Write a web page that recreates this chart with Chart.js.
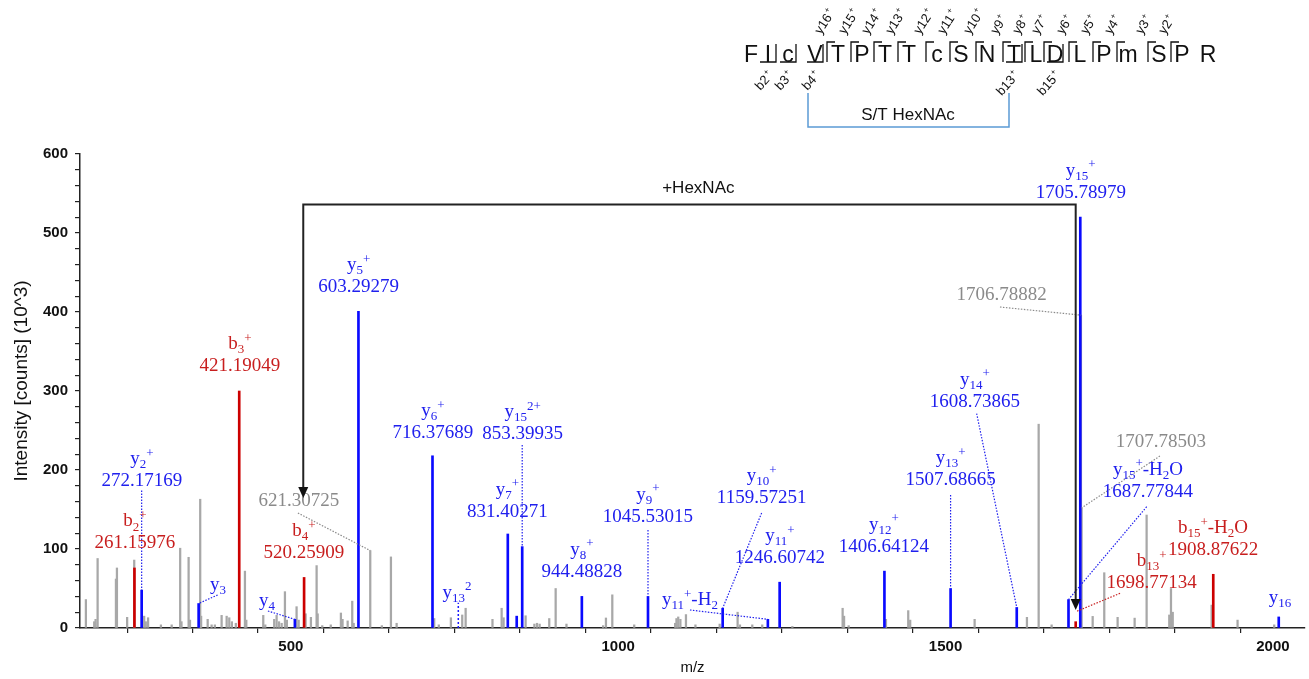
<!DOCTYPE html>
<html>
<head>
<meta charset="utf-8">
<script src="https://cdn.jsdelivr.net/npm/chart.js@4.4.1/dist/chart.umd.min.js"></script>
<style>
  html, body { margin: 0; padding: 0; background: #fff; }
  #wrap { width: 1309px; height: 679px; }
</style>
</head>
<body>
<div id="wrap"><canvas id="spectrum" width="1309" height="679"></canvas></div>
<script>
// unassigned peaks (grey)
var grayMz = [187, 199.7, 201.8, 204.9, 232.9, 234.4, 250, 260.8, 276, 278.5, 282, 301.6, 318,
  331, 333, 343.9, 346, 361.6, 363, 373, 379, 384, 394.3, 402, 406, 410, 416, 429.9, 432,
  457.9, 461, 474.6, 478.3, 482, 486, 491, 494, 508.8, 512, 522.6, 530.7, 539.4, 541, 548,
  561, 576.5, 579, 586.8, 593.8, 596, 621.31, 639, 652.9, 661.6, 719, 726, 744.5, 761.8,
  767, 808, 822, 825, 858.6, 872, 876, 880, 894.7, 904.5, 921, 977, 981.3, 991, 1024.5,
  1087, 1089, 1091.7, 1095, 1103.5, 1118, 1155, 1182.4, 1186, 1204.8, 1220, 1266, 1342.8,
  1345, 1352, 1409, 1443, 1446, 1544.4, 1624.3, 1642.2, 1662, 1706.79, 1707.79, 1724.7,
  1742.4, 1762.8, 1788.8, 1807.1, 1841.7, 1844.3, 1847, 1906.4, 1946, 2002];
var grayInt = [36, 8, 11, 88, 62, 76, 13.5, 86, 15, 8, 13, 4, 4,
  101, 8, 89.5, 10, 163, 15, 11, 4, 4, 16, 15, 13, 8, 6, 72, 10,
  16, 4, 11, 16, 8, 6, 46, 10, 27, 10, 18, 13.5, 79, 18, 3,
  4, 19, 11, 9, 34, 6, 98, 3, 90, 6, 12, 4, 13, 16.5,
  25, 11, 25, 13, 15.5, 5, 6, 5, 12, 50, 5, 3, 12.7, 42, 4,
  6, 12, 14, 11, 17, 4, 5, 20, 4, 4, 4, 2, 25,
  15, 3, 11, 22, 10, 11, 13.5, 258, 4, 396, 152, 14.7,
  70, 13.5, 12.5, 143, 16.5, 50, 20, 29, 10, 4];

// y ions (blue)
var blueMz = [272.17, 359.2, 506.2, 603.29, 716.38, 831.40, 845.0, 853.40, 944.49, 1045.53,
  1159.57, 1228.6, 1246.61, 1406.64, 1507.69, 1608.74, 1687.78, 1705.79, 2008.9];
var blueInt = [48, 31, 11, 401, 218, 119, 15, 103, 40, 40,
  25, 11, 58, 72, 50, 26, 36, 520, 14];

// b ions (red)
var redMz = [261.16, 421.19, 520.26, 1698.77, 1908.88];
var redInt = [76, 300, 64, 8, 68];

// doubly charged y13, drawn dotted
var dottedMz = [755.8];
var dottedInt = [32];

// peptide sequence and observed fragments
var residues = ['F', 'I', 'c', 'V', 'T', 'P', 'T', 'T', 'c', 'S', 'N', 'T', 'L', 'D', 'L', 'P', 'm', 'S', 'P', 'R'];
var yGaps = [4, 5, 6, 7, 8, 9, 10, 11, 12, 13, 14, 15, 16, 17, 18];
var bGaps = [2, 3, 4, 12, 14];
var bNames = ['b2', 'b3', 'b4', 'b13', 'b15'];

// annotation layout: label centre of the m/z line in data units, optional leader
var ionLabels = [
  { ion: 'y_{2}^{+}', text: '272.17169', c: 'blue', at: [272.6, 186], lead: [272.17, 174, 272.17, 48] },
  { ion: 'b_{2}^{+}', text: '261.15976', c: 'red', at: [262, 107] },
  { ion: 'b_{3}^{+}', text: '421.19049', c: 'red', at: [422.3, 331.6] },
  { ion: 'y_{3}', c: 'blue', at: [388.7, 54.4], lead: [388.2, 41.8, 359.2, 31] },
  { ion: 'y_{4}', c: 'blue', at: [463.5, 34.6], lead: [465, 21.5, 506.2, 11] },
  { ion: 'b_{4}^{+}', text: '520.25909', c: 'red', at: [520, 95] },
  { text: '621.30725', c: 'gray', at: [512.4, 160.8], lead: [510.8, 145.6, 621.31, 98] },
  { ion: 'y_{5}^{+}', text: '603.29279', c: 'blue', at: [603.6, 431.6] },
  { ion: 'y_{6}^{+}', text: '716.37689', c: 'blue', at: [717, 246.8] },
  { ion: 'y_{15}^{2+}', text: '853.39935', c: 'blue', at: [854, 245.6], lead: [853.4, 231.6, 853.4, 103] },
  { ion: 'y_{7}^{+}', text: '831.40271', c: 'blue', at: [830.8, 147.2] },
  { ion: 'y_{13}^{2}', c: 'blue', at: [753.7, 44.7] },
  { ion: 'y_{8}^{+}', text: '944.48828', c: 'blue', at: [944.6, 71.3] },
  { ion: 'y_{9}^{+}', text: '1045.53015', c: 'blue', at: [1045.4, 140.9], lead: [1045.53, 124, 1045.53, 40] },
  { ion: 'y_{10}^{+}', text: '1159.57251', c: 'blue', at: [1219.1, 164.2], lead: [1219.1, 145.6, 1159.57, 25] },
  { ion: 'y_{11}^{+}-H_{2}', c: 'blue', at: [1109.6, 35.4], lead: [1109.6, 22.8, 1228.6, 11] },
  { ion: 'y_{11}^{+}', text: '1246.60742', c: 'blue', at: [1247, 88.6] },
  { ion: 'y_{12}^{+}', text: '1406.64124', c: 'blue', at: [1405.8, 102.9] },
  { ion: 'y_{13}^{+}', text: '1507.68665', c: 'blue', at: [1507.8, 187.3], lead: [1507.69, 168.4, 1507.69, 50] },
  { ion: 'y_{14}^{+}', text: '1608.73865', c: 'blue', at: [1544.9, 286.5], lead: [1547.5, 271.5, 1608.74, 26] },
  { ion: 'y_{15}^{+}-H_{2}O', text: '1687.77844', c: 'blue', at: [1809.1, 172.5], lead: [1807.2, 153.5, 1687.78, 36] },
  { text: '1707.78503', c: 'gray', at: [1829, 235.8], lead: [1827.4, 217.7, 1707.79, 152] },
  { text: '1706.78882', c: 'gray', at: [1585.7, 421.5], lead: [1583.1, 406.3, 1706.79, 396] },
  { ion: 'y_{15}^{+}', text: '1705.78979', c: 'blue', at: [1706.5, 551] },
  { ion: 'b_{15}^{+}-H_{2}O', text: '1908.87622', c: 'red', at: [1908.5, 98.7] },
  { ion: 'b_{13}^{+}', text: '1698.77134', c: 'red', at: [1814.8, 56.6], lead: [1766.5, 43.9, 1698.77, 20.6] },
  { ion: 'y_{16}', c: 'blue', at: [2010.8, 37.6] }
];
var hexShift = { from: 519, to: 1698.77, top: 536, leftTip: 164.6, rightTip: 22.8, label: [1122.4, 557] };

var seqX = [751, 768, 788, 815, 838, 862, 885, 909, 937, 961, 987, 1014, 1036, 1055, 1080, 1104, 1128, 1159, 1182, 1208];
var labelColor = { blue: '#2020ee', red: '#c81e1e', gray: '#8a8a8a' };
var SANS = '"Liberation Sans", Arial, sans-serif';
var SERIF = '"Liberation Serif", "Times New Roman", serif';

function points(xs, ys) {
  return xs.map(function (x, i) { return { x: x, y: ys[i] }; });
}

function richParts(s) {
  var parts = [], re = /([_^])\{([^}]*)\}|([^_^]+)/g, m;
  while ((m = re.exec(s))) {
    if (m[1]) parts.push({ t: m[2], k: m[1] === '_' ? 'sub' : 'sup' });
    else parts.push({ t: m[3], k: 'n' });
  }
  return parts;
}

function drawRich(ctx, s, cx, cy, size) {
  var parts = richParts(s);
  var big = size + 'px ' + SERIF, small = Math.round(size * 0.66) + 'px ' + SERIF;
  var w = 0;
  parts.forEach(function (p) {
    ctx.font = p.k === 'n' ? big : small;
    p.w = ctx.measureText(p.t).width;
    w += p.w;
  });
  var x = cx - w / 2;
  ctx.textAlign = 'left';
  ctx.textBaseline = 'middle';
  parts.forEach(function (p) {
    ctx.font = p.k === 'n' ? big : small;
    var dy = p.k === 'sub' ? size * 0.3 : (p.k === 'sup' ? -size * 0.3 : 0);
    ctx.fillText(p.t, x, cy + dy);
    x += p.w;
  });
}

function arrowHead(ctx, x, tipY) {
  ctx.beginPath();
  ctx.moveTo(x, tipY);
  ctx.lineTo(x - 5, tipY - 11);
  ctx.lineTo(x + 5, tipY - 11);
  ctx.closePath();
  ctx.fill();
}

function drawPeptide(ctx) {
  ctx.save();
  ctx.fillStyle = '#111';
  ctx.strokeStyle = '#111';
  ctx.lineWidth = 1.3;
  ctx.font = '23px ' + SANS;
  ctx.textAlign = 'center';
  ctx.textBaseline = 'alphabetic';
  residues.forEach(function (r, i) { ctx.fillText(r, seqX[i], 62); });

  // y fragments: bracket opening to the right, label above
  yGaps.forEach(function (g) {
    var xv = seqX[g] - 11;
    ctx.beginPath();
    ctx.moveTo(xv, 62); ctx.lineTo(xv, 42); ctx.lineTo(xv + 8, 42);
    ctx.stroke();
    ctx.save();
    ctx.translate(xv - 6, 35);
    ctx.rotate(-57 * Math.PI / 180);
    ctx.textAlign = 'left';
    ctx.font = '13px ' + SANS;
    var t = 'y' + (20 - g);
    ctx.fillText(t, 0, 0);
    var w = ctx.measureText(t).width;
    ctx.font = '8px ' + SANS;
    ctx.fillText('+', w + 1, -6);
    ctx.restore();
  });

  // b fragments: bracket opening to the left, label below
  bGaps.forEach(function (g, k) {
    var xb = seqX[g - 1] + 8;
    ctx.beginPath();
    ctx.moveTo(xb - 16, 62); ctx.lineTo(xb, 62); ctx.lineTo(xb, 44);
    ctx.stroke();
    ctx.save();
    ctx.translate(xb - 2, 76);
    ctx.rotate(-48 * Math.PI / 180);
    ctx.textAlign = 'right';
    ctx.font = '8px ' + SANS;
    ctx.fillText('+', 0, -6);
    var pw = ctx.measureText('+').width;
    ctx.font = '13px ' + SANS;
    ctx.fillText(bNames[k], -pw - 1, 0);
    ctx.restore();
  });

  // HexNAc site bracket
  ctx.strokeStyle = '#5b9bd5';
  ctx.lineWidth = 1.5;
  ctx.beginPath();
  ctx.moveTo(808, 93); ctx.lineTo(808, 127); ctx.lineTo(1009, 127); ctx.lineTo(1009, 93);
  ctx.stroke();
  ctx.fillStyle = '#111';
  ctx.font = '17px ' + SANS;
  ctx.textAlign = 'center';
  ctx.textBaseline = 'middle';
  ctx.fillText('S/T HexNAc', 908, 115);
  ctx.restore();
}

var overlay = {
  id: 'overlay',
  afterDatasetsDraw: function (chart) {
    var ctx = chart.ctx, xs = chart.scales.x, ys = chart.scales.y;
    ctx.save();

    // dotted stick for y13 2+
    ctx.strokeStyle = '#1a1aff';
    ctx.lineWidth = 1.5;
    ctx.setLineDash([2, 2]);
    dottedMz.forEach(function (m, i) {
      ctx.beginPath();
      ctx.moveTo(xs.getPixelForValue(m), ys.getPixelForValue(0));
      ctx.lineTo(xs.getPixelForValue(m), ys.getPixelForValue(dottedInt[i]));
      ctx.stroke();
    });

    // leaders
    ctx.lineWidth = 1.2;
    ctx.setLineDash([1.5, 1.5]);
    ionLabels.forEach(function (a) {
      if (!a.lead) return;
      ctx.strokeStyle = labelColor[a.c];
      ctx.beginPath();
      ctx.moveTo(xs.getPixelForValue(a.lead[0]), ys.getPixelForValue(a.lead[1]));
      ctx.lineTo(xs.getPixelForValue(a.lead[2]), ys.getPixelForValue(a.lead[3]));
      ctx.stroke();
    });
    ctx.setLineDash([]);

    // labels
    ionLabels.forEach(function (a) {
      var cx = xs.getPixelForValue(a.at[0]), cy = ys.getPixelForValue(a.at[1]);
      ctx.fillStyle = labelColor[a.c];
      if (a.text) {
        ctx.font = '19px ' + SERIF;
        ctx.textAlign = 'center';
        ctx.textBaseline = 'middle';
        ctx.fillText(a.text, cx, cy);
        if (a.ion) drawRich(ctx, a.ion, cx, cy - 22, 19);
      } else {
        drawRich(ctx, a.ion, cx, cy, 19);
      }
    });

    // +HexNAc shift bracket
    var xl = xs.getPixelForValue(hexShift.from), xr = xs.getPixelForValue(hexShift.to);
    var yt = ys.getPixelForValue(hexShift.top);
    ctx.strokeStyle = '#222';
    ctx.fillStyle = '#111';
    ctx.lineWidth = 2;
    ctx.beginPath();
    ctx.moveTo(xl, ys.getPixelForValue(hexShift.leftTip) - 9);
    ctx.lineTo(xl, yt);
    ctx.lineTo(xr, yt);
    ctx.lineTo(xr, ys.getPixelForValue(hexShift.rightTip) - 9);
    ctx.stroke();
    arrowHead(ctx, xl, ys.getPixelForValue(hexShift.leftTip));
    arrowHead(ctx, xr, ys.getPixelForValue(hexShift.rightTip));
    ctx.font = '17px ' + SANS;
    ctx.textAlign = 'center';
    ctx.textBaseline = 'middle';
    ctx.fillText('+HexNAc', xs.getPixelForValue(hexShift.label[0]), ys.getPixelForValue(hexShift.label[1]));

    ctx.restore();
  },
  afterDraw: function (chart) {
    var ctx = chart.ctx;
    drawPeptide(ctx);
    // y axis title, sits a little above the axis centre in the original
    ctx.save();
    ctx.translate(21.5, 381);
    ctx.rotate(-Math.PI / 2);
    ctx.fillStyle = '#111';
    ctx.font = '19px ' + SANS;
    ctx.textAlign = 'center';
    ctx.textBaseline = 'middle';
    ctx.fillText('Intensity [counts] (10^3)', 0, 0);
    ctx.restore();
  }
};

var axisColor = '#222';
var spectrum = new Chart(document.getElementById('spectrum').getContext('2d'), {
  type: 'bar',
  data: {
    datasets: [
      { label: 'y ions', data: points(blueMz, blueInt), backgroundColor: '#0a0aff', barThickness: 2, order: 1 },
      { label: 'b ions', data: points(redMz, redInt), backgroundColor: '#cc0000', barThickness: 2, order: 2 },
      { label: 'other', data: points(grayMz, grayInt), backgroundColor: '#a8a8a8', barThickness: 1.6, order: 3 }
    ]
  },
  options: {
    responsive: false,
    animation: false,
    events: [],
    datasets: { bar: { grouped: false, borderWidth: 0 } },
    layout: { padding: { top: 154, right: 4, left: 0, bottom: 0 } },
    plugins: { legend: { display: false }, tooltip: { enabled: false } },
    scales: {
      x: {
        type: 'linear',
        offset: false,
        min: 178,
        max: 2049,
        afterFit: function (scale) { scale.height = 51; },
        afterBuildTicks: function (scale) {
          scale.ticks = scale.ticks.filter(function (t) {
            return t.value % 100 === 0 && t.value >= scale.min && t.value <= scale.max;
          });
        },
        ticks: {
          stepSize: 100,
          includeBounds: false,
          autoSkip: false,
          maxRotation: 0,
          padding: 5,
          color: '#111',
          font: { family: SANS, size: 15, weight: 'bold' },
          callback: function (v) { return v % 500 === 0 ? v : ''; }
        },
        grid: { drawOnChartArea: false, drawTicks: true, tickLength: 5, color: axisColor, lineWidth: 1.2 },
        border: { display: true, color: axisColor, width: 1.5 },
        title: { display: true, text: 'm/z', color: '#111', font: { family: SANS, size: 15 }, padding: { top: 0, bottom: 2 } }
      },
      y: {
        min: 0,
        max: 600,
        afterFit: function (scale) { scale.width = 80; },
        ticks: {
          stepSize: 20,
          autoSkip: false,
          padding: 7,
          color: '#111',
          font: { family: SANS, size: 15, weight: 'bold' },
          callback: function (v) { return v % 100 === 0 ? v : ''; }
        },
        grid: { drawOnChartArea: false, drawTicks: true, tickLength: 5, color: axisColor, lineWidth: 1.2 },
        border: { display: true, color: axisColor, width: 1.5 },
        title: { display: false }
      }
    }
  },
  plugins: [overlay]
});
</script>
</body>
</html>
